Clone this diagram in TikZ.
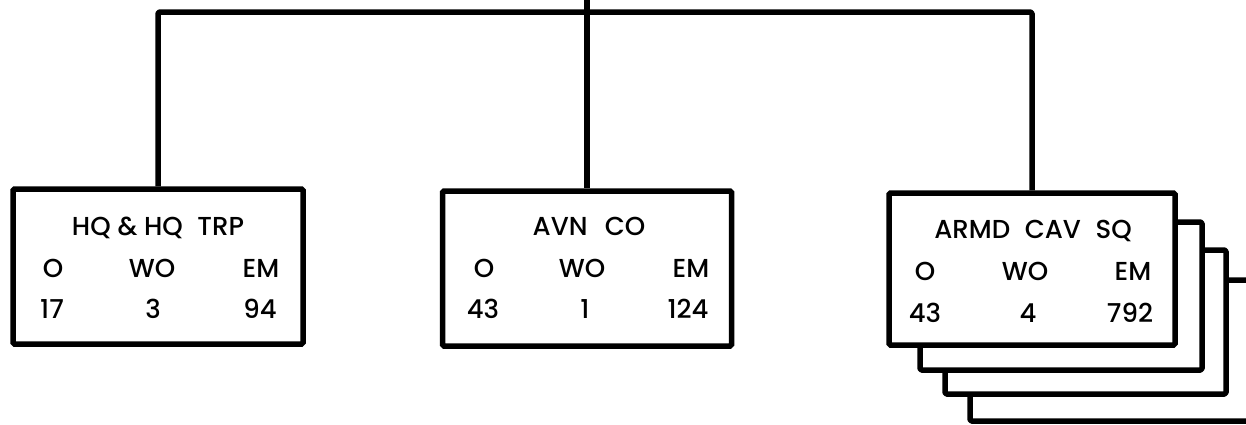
\documentclass[tikz,border=0pt]{standalone}
\usepackage{fontspec}
\setmainfont{Poppins Medium}
\begin{document}
\begin{tikzpicture}[x=1pt,y=-1pt,
  line/.style={line width=5.5pt,line join=round,rounded corners=1.5pt},
  unitbox/.style={draw,line width=5.5pt,rounded corners=1.5pt,fill=white,inner sep=0pt},
  lbl/.style={font=\fontsize{26}{26}\selectfont,anchor=base,inner sep=0pt}]
\useasboundingbox (0,0) rectangle (1246,424);
% stacked sheets behind ARMD CAV SQ
\begin{scope}
\clip (0,0) rectangle (1246,424);
\draw[line,fill=white] (970,280) rectangle (1265,421);
\draw[line,fill=white] (945,250) rectangle (1226,394);
\draw[line,fill=white] (920,222) rectangle (1202,370);
\end{scope}
% boxes
\node[unitbox,minimum width=290pt,minimum height=155pt] (b1) at (158,266.5) {};
\node[unitbox,minimum width=289pt,minimum height=155pt] (b2) at (587,268.5) {};
\node[unitbox,minimum width=286pt,minimum height=152pt] (b3) at (1032,269) {};
% connectors
\coordinate (bus) at (587,12);
\coordinate (top) at (587,0);
\draw[line] (b1.north) |- (bus) -| (b3.north);
\draw[line] (top) -- (b2.north);
% box 1 texts
\node[lbl] (t1) at (158,235) {HQ \& HQ\hspace{0.3em} TRP};
\node[lbl] (o1) at (53,277) {O};
\node[lbl] (w1) at (152,277) {WO};
\node[lbl] (e1) at (261,277) {EM};
\node[lbl] (n1a) at (52,318) {17};
\node[lbl] (n1b) at (153,318) {3};
\node[lbl] (n1c) at (260,318) {94};
% box 2 texts
\node[lbl] (t2) at (589,235) {AVN\hspace{0.4em} CO};
\node[lbl] (o2) at (484,277) {O};
\node[lbl] (w2) at (582,277) {WO};
\node[lbl] (e2) at (691,277) {EM};
\node[lbl] (n2a) at (483,318) {43};
\node[lbl] (n2b) at (585,318) {1};
\node[lbl] (n2c) at (688,318) {124};
% box 3 texts
\node[lbl] (t3) at (1033,238) {ARMD\hspace{0.3em} CAV\hspace{0.3em} SQ};
\node[lbl] (o3) at (925,280) {O};
\node[lbl] (w3) at (1025,280) {WO};
\node[lbl] (e3) at (1133,280) {EM};
\node[lbl] (n3a) at (925,322) {43};
\node[lbl] (n3b) at (1028,322) {4};
\node[lbl] (n3c) at (1130,322) {792};
\end{tikzpicture}
\end{document}
